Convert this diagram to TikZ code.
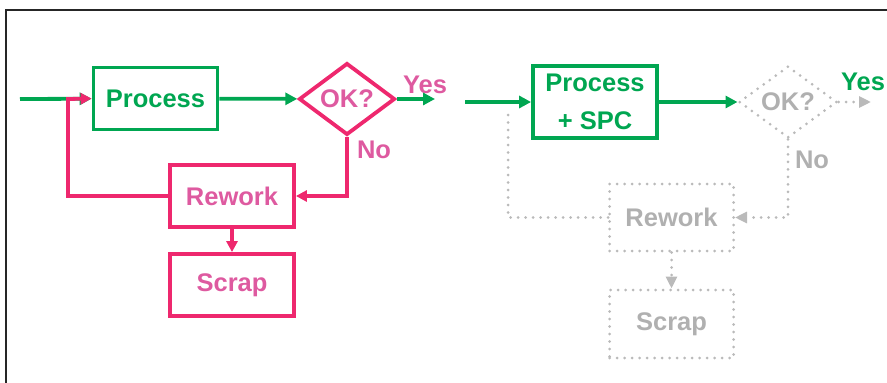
\documentclass[tikz,border=0pt]{standalone}
\usepackage{fontspec}
\setmainfont{Liberation Sans}
\usetikzlibrary{positioning,arrows.meta,shapes.geometric}
\definecolor{okgreen}{RGB}{0,166,81}
\definecolor{nogpink}{RGB}{238,40,110}
\definecolor{nogtext}{RGB}{222,90,160}
\definecolor{ghost}{RGB}{186,186,186}
\definecolor{ghosttext}{RGB}{176,176,176}
\tikzset{
  box/.style       ={draw, line width=3.8pt, inner sep=0pt, minimum width=124pt,
                     minimum height=62pt, align=center,
                     font=\fontsize{25.5}{38}\selectfont\bfseries},
  good/.style      ={box, draw=okgreen, text=okgreen},
  bad/.style       ={box, draw=nogpink, text=nogtext},
  check/.style     ={bad, diamond, minimum width=96pt, minimum height=63pt},
  dots/.style      ={line width=3pt, line cap=round, dash pattern=on 0pt off 7.5pt},
  ghost/.style     ={box, draw=ghost, text=ghosttext, dots},
  ghostcheck/.style={ghost, diamond, minimum width=98pt, minimum height=68pt},
  lbl/.style       ={font=\fontsize{25.5}{30}\selectfont\bfseries, anchor=base},
  gfl/.style       ={-{Triangle[length=12pt,width=12pt]}, okgreen, line width=3.8pt},
  pfl/.style       ={-{Triangle[length=11pt,width=11pt]}, nogpink, line width=3.8pt},
  dfl/.style       ={-{Triangle[length=12pt,width=11pt]}, ghost, dots},
}

\begin{document}
\begin{tikzpicture}[x=1pt,y=-1pt]
  \useasboundingbox (0,0) rectangle (887,383);
  \draw[line width=1.4pt, black!85] (6,383) -- (6,10) -- (887,10);

  % without SPC: every part is checked, bad ones go round again
  \coordinate (in1)   at (20,99);
  \coordinate (loop1) at (68,99);
  \coordinate (yes1)  at (435,99);
  \node[good]  (proc1) at (155.5,98.5) {Process};
  \node[check] (ok1)   at (347,99)     {OK?};
  \node[bad]   (rw1)   at (232,196)    {Rework};
  \node[bad]   (scr1)  at (232,285)    {Scrap};
  \node[lbl, text=nogtext] (yeslbl1) at (425,93)  {Yes};
  \node[lbl, text=nogtext] (nolbl1)  at (374,158) {No};

  \draw[gfl](in1) -- (proc1);
  \draw[gfl](proc1) -- (ok1);
  \draw[gfl](ok1.east) -- (yes1);
  \draw[pfl](ok1.south) |- (rw1.east);
  \draw[pfl](rw1.west) -| (loop1) -- (proc1.west);
  \draw[pfl](rw1) -- (scr1);

  % with SPC: the check and the rework loop fade out
  \coordinate (in2)   at (465,102);
  \coordinate (loop2) at (508,108);
  \coordinate (yes2)  at (871,102);
  \node[good]       (proc2) at (595,102)     [minimum height=72pt] {Process\\+ SPC};
  \node[ghostcheck] (ok2)   at (788,102)     {OK?};
  \node[ghost]      (rw2)   at (671.5,217.5) [minimum height=67pt] {Rework};
  \node[ghost]      (scr2)  at (671.5,324)   [minimum height=68pt] {Scrap};
  \node[lbl, text=okgreen]   (yeslbl2) at (863,90)  {Yes};
  \node[lbl, text=ghosttext] (nolbl2)  at (812,168) {No};

  \draw[gfl](in2) -- (proc2);
  \draw[gfl](proc2) -- (ok2);
  \draw[dfl](ok2.east) -- (yes2);
  \draw[dfl](ok2.south) |- (rw2.east);
  \draw[ghost, dots](rw2.west) -| (loop2);
  \draw[dfl](rw2) -- (scr2);
\end{tikzpicture}
\end{document}
